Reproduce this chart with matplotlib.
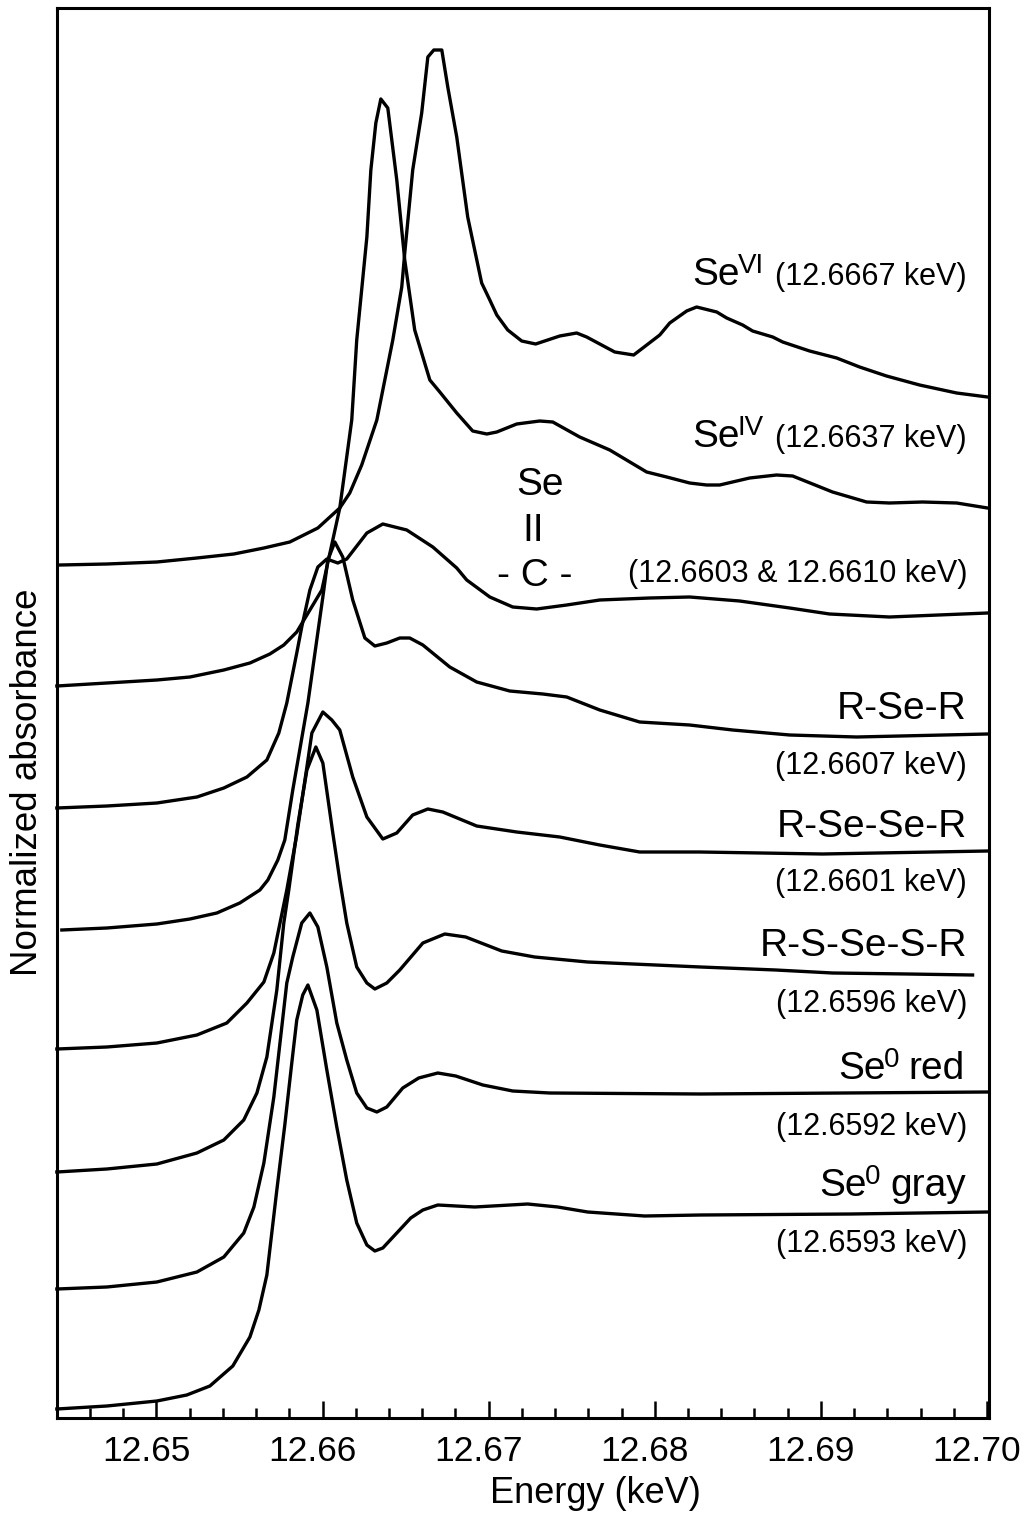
import matplotlib
matplotlib.use('Agg')
import matplotlib.pyplot as plt
from matplotlib.ticker import MultipleLocator, FormatStrFormatter
from matplotlib.transforms import ScaledTranslation

# Se K-edge XANES spectra, stacked with an offset (arbitrary absorbance units)
e_se6 = [12.64419, 12.64702, 12.65003, 12.65244, 12.65466, 12.65647, 12.65803, 12.65972, 12.66104, 12.66164,
         12.66236, 12.66327, 12.66393, 12.66423, 12.66477, 12.66495, 12.66543, 12.66597, 12.66634, 12.66670,
         12.66718, 12.66754, 12.66808, 12.66874, 12.66958, 12.67007, 12.67049, 12.67115, 12.67199, 12.67283,
         12.67428, 12.67530, 12.67590, 12.67759, 12.67873, 12.68030, 12.68090, 12.68192, 12.68252, 12.68373,
         12.68433, 12.68529, 12.68589, 12.68710, 12.68770, 12.68932, 12.69095, 12.69233, 12.69395, 12.69594,
         12.69817, 12.70003]
a_se6 = [.853, .854, .856, .860, .864, .870, .876, .890, .910, .925,
         .953, .998, 1.053, 1.078, 1.131, 1.165, 1.248, 1.305, 1.361, 1.368,
         1.368, 1.331, 1.281, 1.201, 1.135, 1.118, 1.103, 1.088, 1.077, 1.074,
         1.082, 1.085, 1.081, 1.066, 1.063, 1.083, 1.095, 1.107, 1.111, 1.106,
         1.100, 1.093, 1.087, 1.081, 1.076, 1.067, 1.060, 1.051, 1.042, 1.033,
         1.025, 1.021]

e_se4 = [12.64401, 12.64702, 12.65003, 12.65202, 12.65406, 12.65563, 12.65683, 12.65767, 12.65845, 12.65996,
         12.66104, 12.66176, 12.66206, 12.66267, 12.66291, 12.66321, 12.66351, 12.66393, 12.66447, 12.66495,
         12.66555, 12.66646, 12.66706, 12.66808, 12.66904, 12.66989, 12.67049, 12.67169, 12.67307, 12.67386,
         12.67548, 12.67729, 12.67951, 12.68072, 12.68210, 12.68312, 12.68391, 12.68571, 12.68733, 12.68830,
         12.69070, 12.69275, 12.69413, 12.69612, 12.69817, 12.70003]
a_se4 = [.732, .735, .738, .741, .748, .755, .764, .773, .786, .828,
         .910, .998, 1.078, 1.181, 1.248, 1.295, 1.319, 1.310, 1.238, 1.158,
         1.088, 1.038, 1.026, 1.005, .987, .984, .986, .994, .997, .996,
         .981, .968, .946, .941, .935, .933, .933, .940, .943, .942,
         .926, .916, .915, .916, .915, .910]

e_cse = [12.64401, 12.64702, 12.65003, 12.65244, 12.65406, 12.65545, 12.65665, 12.65737, 12.65785, 12.65845,
         12.65875, 12.65924, 12.65972, 12.66026, 12.66092, 12.66146, 12.66267, 12.66363, 12.66507, 12.66664,
         12.66808, 12.66868, 12.67007, 12.67145, 12.67289, 12.67470, 12.67669, 12.67969, 12.68210, 12.68511,
         12.68812, 12.69052, 12.69413, 12.70003]
a_cse = [.610, .612, .615, .621, .630, .641, .658, .685, .715, .765,
         .791, .828, .851, .859, .855, .859, .885, .894, .888, .871,
         .850, .838, .821, .811, .809, .813, .818, .820, .821, .817,
         .810, .804, .801, .805]

e_rser = [12.64431, 12.64702, 12.65003, 12.65202, 12.65364, 12.65502, 12.65623, 12.65671, 12.65731, 12.65773,
          12.65821, 12.65912, 12.66002, 12.66032, 12.66074, 12.66122, 12.66182, 12.66255, 12.66315, 12.66387,
          12.66465, 12.66525, 12.66604, 12.66766, 12.66928, 12.67127, 12.67326, 12.67470, 12.67669, 12.67909,
          12.68210, 12.68469, 12.68812, 12.69215, 12.70003]
a_rser = [.488, .490, .494, .499, .505, .515, .528, .538, .558, .578,
          .628, .715, .821, .858, .876, .861, .818, .780, .772, .775,
          .780, .780, .773, .751, .736, .727, .724, .721, .708, .696,
          .693, .688, .683, .681, .684]

e_rsesr = [12.64401, 12.64702, 12.65003, 12.65244, 12.65424, 12.65545, 12.65647, 12.65707, 12.65785, 12.65845,
           12.65906, 12.65936, 12.66002, 12.66056, 12.66104, 12.66182, 12.66267, 12.66363, 12.66447, 12.66543,
           12.66634, 12.66724, 12.66928, 12.67169, 12.67428, 12.67669, 12.67909, 12.68270, 12.69010, 12.70003]
a_rsesr = [.369, .371, .375, .383, .395, .415, .436, .465, .528, .583,
           .651, .685, .706, .698, .688, .641, .601, .579, .585, .603,
           .609, .606, .592, .586, .581, .573, .566, .566, .564, .567]

e_rssesr = [12.64401, 12.64702, 12.65003, 12.65244, 12.65406, 12.65526, 12.65605, 12.65665, 12.65725, 12.65767,
            12.65797, 12.65851, 12.65906, 12.65960, 12.66002, 12.66062, 12.66104, 12.66146, 12.66206, 12.66267,
            12.66315, 12.66387, 12.66465, 12.66604, 12.66736, 12.66862, 12.67079, 12.67277, 12.67596, 12.68276,
            12.68728, 12.69070, 12.69522, 12.69913]
a_rssesr = [.246, .249, .254, .265, .278, .298, .325, .361, .428, .495,
            .528, .593, .648, .671, .655, .585, .538, .495, .451, .435,
            .429, .435, .448, .475, .484, .481, .467, .461, .456, .451,
            .448, .445, .444, .443]

e_red = [12.64401, 12.64702, 12.65003, 12.65244, 12.65406, 12.65526, 12.65587, 12.65647, 12.65707, 12.65785,
         12.65821, 12.65875, 12.65924, 12.65972, 12.66026, 12.66086, 12.66146, 12.66206, 12.66267, 12.66327,
         12.66387, 12.66483, 12.66579, 12.66694, 12.66802, 12.66965, 12.67145, 12.67368, 12.68276, 12.70003]
a_red = [.129, .131, .136, .146, .161, .185, .211, .255, .321, .435,
         .461, .495, .505, .491, .451, .395, .358, .325, .310, .306,
         .311, .330, .340, .345, .342, .333, .327, .325, .324, .326]

e_gray = [12.64401, 12.64702, 12.65003, 12.65183, 12.65322, 12.65460, 12.65563, 12.65617, 12.65665, 12.65725,
          12.65773, 12.65815, 12.65845, 12.65881, 12.65912, 12.65966, 12.66026, 12.66086, 12.66146, 12.66206,
          12.66267, 12.66315, 12.66363, 12.66531, 12.66604, 12.66694, 12.66916, 12.67235, 12.67416, 12.67596,
          12.67939, 12.68276, 12.69185, 12.70003]
a_gray = [.009, .012, .017, .023, .032, .052, .081, .108, .143, .228,
          .293, .355, .398, .423, .433, .408, .348, .291, .238, .195,
          .173, .167, .170, .200, .208, .213, .211, .214, .211, .206,
          .202, .203, .204, .206]

spectra = [(e_se6, a_se6), (e_se4, a_se4), (e_cse, a_cse), (e_rser, a_rser),
           (e_rsesr, a_rsesr), (e_rssesr, a_rssesr), (e_red, a_red), (e_gray, a_gray)]

x_ticks = [12.65, 12.66, 12.67, 12.68, 12.69, 12.70]
x_minor = [12.646, 12.648, 12.652, 12.654, 12.656, 12.658, 12.662, 12.664, 12.666, 12.668, 12.672, 12.674,
           12.676, 12.678, 12.682, 12.684, 12.686, 12.688, 12.692, 12.694, 12.696, 12.698]

W, H = 1030, 1515
plt.rcParams['font.family'] = ['Liberation Sans', 'DejaVu Sans']

fig = plt.figure(figsize=(W / 100, H / 100), dpi=100)
ax = fig.add_axes([56.7 / W, 1 - 1418 / H, 932 / W, 1410 / H])

for e, a in spectra:
    ax.plot(e, a, color='black', lw=2.4, solid_joinstyle='round', clip_on=False)

ax.set_xlim(12.6440, 12.7001)
ax.set_ylim(0, 1.41)
ax.set_yticks([])
ax.set_xticks(x_ticks)
ax.set_xticks(x_minor, minor=True)
ax.xaxis.set_major_formatter(FormatStrFormatter('%.2f'))
ax.tick_params(axis='x', which='major', direction='in', length=12, width=1.8, labelsize=25.5, pad=12)
ax.tick_params(axis='x', which='minor', direction='in', length=7, width=1.8)
for s in ax.spines.values():
    s.set_linewidth(2.2)

# the tick labels sit a little left of their ticks in the original
shift = ScaledTranslation(-10 / 100, 0, fig.dpi_scale_trans)
for t in ax.get_xticklabels():
    t.set_transform(t.get_transform() + shift)


# text placed by reference position, x and baseline y
def label(x, y, s, size, ha='left'):
    fig.text(x / W, 1 - y / H, s, fontsize=size, ha=ha, va='baseline', color='black')


fig.text(595 / W, 1 - 1503 / H, 'Energy (keV)', fontsize=26, ha='center', va='baseline')
fig.text(45 / W, 1 - 782 / H, 'Normalized absorbance', fontsize=26.5, rotation=90, ha='right', va='center')

big = 28
small = 22
sup = 20

label(692, 285, 'Se', big)
label(738, 273, 'VI', sup)
label(967, 285, '(12.6667 keV)', small, ha='right')

label(692, 447, 'Se', big)
label(738, 435, 'IV', sup)
label(967, 447, '(12.6637 keV)', small, ha='right')

label(540, 495, 'Se', big, ha='center')
label(533, 541, 'II', big, ha='center')
label(535, 586, '- C -', big, ha='center')
label(967, 582, '(12.6603 & 12.6610 keV)', small, ha='right')

label(967, 719, 'R-Se-R', big, ha='right')
label(967, 774, '(12.6607 keV)', small, ha='right')
label(967, 837, 'R-Se-Se-R', big, ha='right')
label(967, 891, '(12.6601 keV)', small, ha='right')
label(967, 956, 'R-S-Se-S-R', big, ha='right')
label(967, 1012, '(12.6596 keV)', small, ha='right')

label(838, 1079, 'Se', big)
label(884, 1067, '0', sup)
label(965, 1079, 'red', big, ha='right')
label(967, 1135, '(12.6592 keV)', small, ha='right')

label(819, 1196, 'Se', big)
label(865, 1184, '0', sup)
label(966, 1196, 'gray', big, ha='right')
label(967, 1252, '(12.6593 keV)', small, ha='right')

fig.savefig('out.png', dpi=100)
